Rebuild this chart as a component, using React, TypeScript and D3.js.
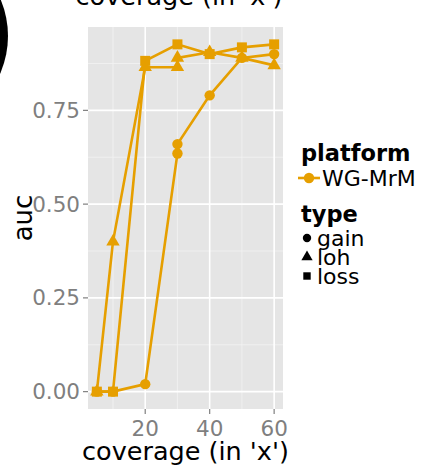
import React from "react";
import * as d3 from "d3";

// coverage values (x) and auc per type; x=30 was measured twice for gain and loh
const gainX = [5, 10, 20, 30, 30, 40, 50, 60];
const gainY = [0.0, 0.0, 0.02, 0.635, 0.66, 0.79, 0.89, 0.9];
const lohX = [5, 10, 20, 30, 30, 40, 50, 60];
const lohY = [0.0, 0.4, 0.865, 0.865, 0.89, 0.905, 0.89, 0.87];
const lossX = [5, 10, 20, 30, 40, 50, 60];
const lossY = [0.0, 0.0, 0.882, 0.926, 0.9, 0.918, 0.926];

const types = ["gain", "loh", "loss"];
const platforms = ["WG-MrM"];
const xTicks = [20, 40, 60];
const xMinor = [10, 30, 50];
const yTicks = [0, 0.25, 0.5, 0.75];
const yMinor = [0.125, 0.375, 0.625, 0.875];

const ORANGE = "#E69F00";
const FONT = "DejaVu Sans, sans-serif";

type Pt = { x: number; y: number };
const zip = (xs: number[], ys: number[]): Pt[] => xs.map((x, i) => ({ x, y: ys[i] }));
const series: { type: string; pts: Pt[] }[] = [
  { type: "gain", pts: zip(gainX, gainY) },
  { type: "loh", pts: zip(lohX, lohY) },
  { type: "loss", pts: zip(lossX, lossY) },
];

const symbolFor: Record<string, d3.SymbolType> = {
  gain: d3.symbolCircle,
  loh: d3.symbolTriangle,
  loss: d3.symbolSquare,
};
const symbolArea: Record<string, number> = { gain: 85, loh: 78, loss: 100 };
const keyArea: Record<string, number> = { gain: 55, loh: 55, loss: 55 };

export default function App() {
  const W = 423;
  const H = 470;
  const left = 88, right = 283, top = 27, bottom = 409;

  const allX = [...gainX, ...lohX, ...lossX];
  const allY = [...gainY, ...lohY, ...lossY];
  const [x0, x1] = d3.extent(allX) as [number, number];
  const [y0, y1] = d3.extent(allY) as [number, number];
  const xe = (x1 - x0) * 0.05;
  const ye = (y1 - y0) * 0.05;
  const x = d3.scaleLinear().domain([x0 - xe, x1 + xe]).range([left, right]);
  const y = d3.scaleLinear().domain([y0 - ye, y1 + ye]).range([bottom, top]);

  const line = d3
    .line<Pt>()
    .x((d) => x(d.x))
    .y((d) => y(d.y));

  const sym = (t: string, size: number) => d3.symbol().type(symbolFor[t]).size(size)() as string;

  return (
    <svg
      width={W}
      height={H}
      style={{ position: "absolute", left: 0, top: 0, background: "#fff" }}
      fontFamily={FONT}
    >
      <rect width={W} height={H} fill="#fff" />
      {/* corner badge */}
      <circle cx={-86} cy={36} r={94} fill="#000" />
      {/* title strip above the panel */}
      <text x={179} y={5} textAnchor="middle" fontSize={25.5} fill="#000">
        coverage (in 'x')
      </text>

      {/* panel */}
      <rect x={left} y={top} width={right - left} height={bottom - top} fill="#E5E5E5" />
      {yMinor.map((v) => (
        <line key={"ym" + v} x1={left} x2={right} y1={y(v)} y2={y(v)} stroke="#F2F2F2" strokeWidth={0.8} />
      ))}
      {xMinor.map((v) => (
        <line key={"xm" + v} y1={top} y2={bottom} x1={x(v)} x2={x(v)} stroke="#F2F2F2" strokeWidth={0.8} />
      ))}
      {yTicks.map((v) => (
        <line key={"yM" + v} x1={left} x2={right} y1={y(v)} y2={y(v)} stroke="#fff" strokeWidth={1.6} />
      ))}
      {xTicks.map((v) => (
        <line key={"xM" + v} y1={top} y2={bottom} x1={x(v)} x2={x(v)} stroke="#fff" strokeWidth={1.6} />
      ))}

      {/* lines and points */}
      {series.map((s) => (
        <path key={"l" + s.type} d={line(s.pts) as string} fill="none" stroke={ORANGE} strokeWidth={2.6} />
      ))}
      {series.map((s) =>
        s.pts.map((p, i) => (
          <path
            key={s.type + i}
            d={sym(s.type, symbolArea[s.type])}
            transform={`translate(${x(p.x)},${y(p.y)})`}
            fill={ORANGE}
          />
        ))
      )}

      {/* y axis */}
      {yTicks.map((v) => (
        <g key={"yt" + v}>
          <line x1={left - 5} x2={left} y1={y(v)} y2={y(v)} stroke="#7F7F7F" strokeWidth={1.2} />
          <text x={left - 8} y={y(v) + 7.5} textAnchor="end" fontSize={21.5} fill="#7F7F7F">
            {d3.format(".2f")(v)}
          </text>
        </g>
      ))}
      {/* x axis */}
      {xTicks.map((v) => (
        <g key={"xt" + v}>
          <line y1={bottom} y2={bottom + 5} x1={x(v)} x2={x(v)} stroke="#7F7F7F" strokeWidth={1.2} />
          <text x={x(v)} y={436} textAnchor="middle" fontSize={21.5} fill="#7F7F7F">
            {v}
          </text>
        </g>
      ))}
      <text x={(left + right) / 2} y={460} textAnchor="middle" fontSize={25.5} fill="#000">
        coverage (in 'x')
      </text>
      <text
        transform={`translate(32,${(top + bottom) / 2}) rotate(-90)`}
        textAnchor="middle"
        fontSize={26}
        fill="#000"
      >
        auc
      </text>

      {/* legend: platform */}
      <text x={301} y={161} fontSize={22.5} fontWeight="bold" fill="#000">
        platform
      </text>
      {platforms.map((p, i) => (
        <g key={p} transform={`translate(0,${178 + i * 19})`}>
          <line x1={298} x2={320} y1={0} y2={0} stroke={ORANGE} strokeWidth={2.6} />
          <path d={sym("gain", 85)} transform="translate(309,0)" fill={ORANGE} />
          <text x={322} y={8} fontSize={22} fill="#000">
            {p}
          </text>
        </g>
      ))}

      {/* legend: type */}
      <text x={301} y={222} fontSize={22.5} fontWeight="bold" fill="#000">
        type
      </text>
      {types.map((t, i) => (
        <g key={t} transform={`translate(0,${238 + i * 19})`}>
          <path d={sym(t, keyArea[t])} transform="translate(307,0)" fill="#000" />
          <text x={317} y={7.5} fontSize={22} fill="#000">
            {t}
          </text>
        </g>
      ))}
    </svg>
  );
}
